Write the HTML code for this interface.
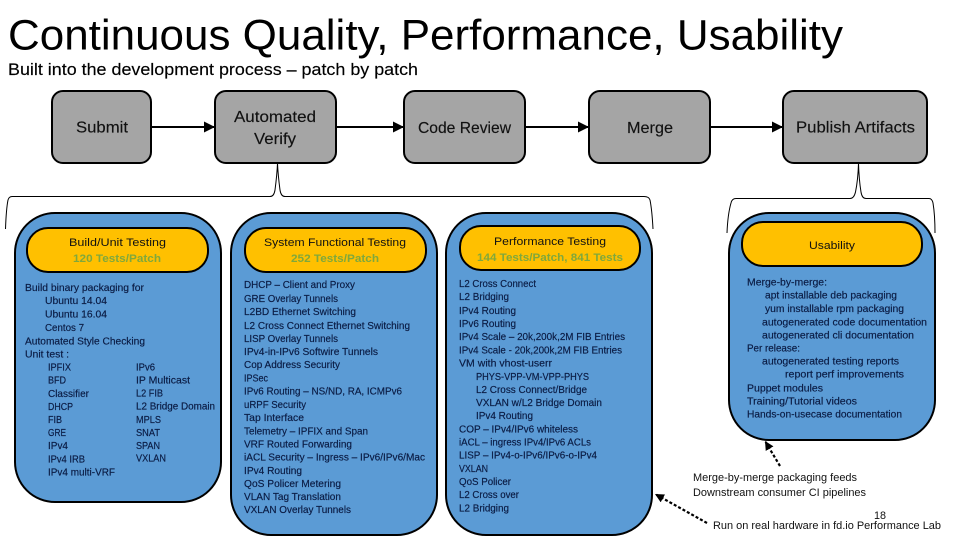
<!DOCTYPE html>
<html>
<head>
<meta charset="utf-8">
<style>
html,body{margin:0;padding:0;background:#fff;width:960px;height:540px;overflow:hidden}
svg{display:block}
text{font-family:"Liberation Sans",sans-serif}
.b text{font-size:10.2px;fill:#0b1c44;stroke:#0b1c44;stroke-width:.18px}
.g{font-size:16px;fill:#111;stroke:#111;stroke-width:.15px}
.y{font-size:11px;fill:#111}
.n{font-size:11px;fill:#7fa83c;font-weight:bold}
.f{font-size:10.8px;fill:#111}
</style>
</head>
<body>
<svg width="960" height="540" viewBox="0 0 960 540" xmlns="http://www.w3.org/2000/svg">
<defs>
<marker id="ah" markerWidth="11" markerHeight="11" refX="11" refY="5.500" orient="auto" markerUnits="userSpaceOnUse"><path d="M0 0L11 5.500L0 11Z" fill="#000"/></marker>
<marker id="ad" markerWidth="9" markerHeight="9" refX="9" refY="4.500" orient="auto" markerUnits="userSpaceOnUse"><path d="M0 0L9 4.500L0 9Z" fill="#000"/></marker>
</defs>
<rect width="960" height="540" fill="#fff"/>

<text x="8" y="49.500" font-size="43" fill="#000" textLength="835" lengthAdjust="spacingAndGlyphs">Continuous Quality, Performance, Usability</text>
<text x="8" y="75" font-size="17" fill="#000" stroke="#000" stroke-width=".15" textLength="410" lengthAdjust="spacingAndGlyphs">Built into the development process – patch by patch</text>

<!-- process boxes -->
<g fill="#a5a5a5" stroke="#000" stroke-width="2">
<rect x="52" y="91" width="99" height="72" rx="11"/>
<rect x="215" y="91" width="121" height="72" rx="11"/>
<rect x="404" y="91" width="121" height="72" rx="11"/>
<rect x="589" y="91" width="121" height="72" rx="11"/>
<rect x="783" y="91" width="144" height="72" rx="11"/>
</g>
<g stroke="#000" stroke-width="2" fill="none">
<line x1="151" y1="127" x2="215" y2="127" marker-end="url(#ah)"/>
<line x1="336" y1="127" x2="404" y2="127" marker-end="url(#ah)"/>
<line x1="525" y1="127" x2="589" y2="127" marker-end="url(#ah)"/>
<line x1="710" y1="127" x2="783" y2="127" marker-end="url(#ah)"/>
</g>
<text class="g" x="76" y="132.500" textLength="52" lengthAdjust="spacingAndGlyphs">Submit</text>
<text class="g" x="234" y="122" textLength="82" lengthAdjust="spacingAndGlyphs">Automated</text>
<text class="g" x="254" y="144" textLength="42" lengthAdjust="spacingAndGlyphs">Verify</text>
<text class="g" x="418" y="133" textLength="93" lengthAdjust="spacingAndGlyphs">Code Review</text>
<text class="g" x="627" y="133" textLength="46" lengthAdjust="spacingAndGlyphs">Merge</text>
<text class="g" x="796" y="132.500" textLength="119" lengthAdjust="spacingAndGlyphs">Publish Artifacts</text>

<!-- braces -->
<g fill="none" stroke="#000" stroke-width="1">
<path d="M5.500 229C6 215 7 205 8 200Q9 196.500 12 196.500L270 196.500Q274 196.500 275 190Q277 175 277.500 163Q278 175 280 190Q281 196.500 285 196.500L644 196.500Q649 196.500 650 200Q652 210 653 229"/>
<path d="M727 233C727.500 220 729 210 731 203Q732 198.500 736 198.500L850 198.500Q854 198.500 855.500 192Q858 180 858.500 163Q859 180 861 192Q862 198.500 866 198.500L929 198.500Q932 198.500 933 203Q935 215 935 233"/>
</g>

<!-- blue panels -->
<g fill="#5b9bd5" stroke="#000" stroke-width="2">
<rect x="15" y="213" width="206" height="289" rx="40"/>
<rect x="231" y="213" width="206" height="322" rx="40"/>
<rect x="446" y="213" width="206" height="322" rx="40"/>
<rect x="729" y="213" width="206" height="227" rx="40"/>
</g>
<g fill="#ffc000" stroke="#000" stroke-width="2">
<rect x="27" y="228" width="181" height="44" rx="21"/>
<rect x="245" y="228" width="181" height="44" rx="21"/>
<rect x="460" y="226" width="180" height="44" rx="21"/>
<rect x="742" y="222" width="180" height="44" rx="21"/>
</g>
<text class="y" x="69" y="246" textLength="97" lengthAdjust="spacingAndGlyphs">Build/Unit Testing</text>
<text class="n" x="73" y="262" textLength="88" lengthAdjust="spacingAndGlyphs">120 Tests/Patch</text>
<text class="y" x="264" y="246" textLength="142" lengthAdjust="spacingAndGlyphs">System Functional Testing</text>
<text class="n" x="291" y="262" textLength="88" lengthAdjust="spacingAndGlyphs">252 Tests/Patch</text>
<text class="y" x="494" y="245" textLength="112" lengthAdjust="spacingAndGlyphs">Performance Testing</text>
<text class="n" x="477" y="261" textLength="146" lengthAdjust="spacingAndGlyphs">144 Tests/Patch, 841 Tests</text>
<text class="y" x="809" y="249" textLength="46" lengthAdjust="spacingAndGlyphs">Usability</text>

<!-- column 1 -->
<g class="b">
<text x="25" y="291" textLength="119" lengthAdjust="spacingAndGlyphs">Build binary packaging for</text>
<text x="45" y="304" textLength="62" lengthAdjust="spacingAndGlyphs">Ubuntu 14.04</text>
<text x="45" y="317.500" textLength="62" lengthAdjust="spacingAndGlyphs">Ubuntu 16.04</text>
<text x="45" y="331" textLength="39" lengthAdjust="spacingAndGlyphs">Centos 7</text>
<text x="25" y="344.500" textLength="120" lengthAdjust="spacingAndGlyphs">Automated Style Checking</text>
<text x="25" y="357.500" textLength="44" lengthAdjust="spacingAndGlyphs">Unit test :</text>
<text x="48" y="370.500" textLength="23" lengthAdjust="spacingAndGlyphs">IPFIX</text>
<text x="48" y="383.500" textLength="18" lengthAdjust="spacingAndGlyphs">BFD</text>
<text x="48" y="397" textLength="41" lengthAdjust="spacingAndGlyphs">Classifier</text>
<text x="48" y="410" textLength="25" lengthAdjust="spacingAndGlyphs">DHCP</text>
<text x="48" y="423" textLength="14" lengthAdjust="spacingAndGlyphs">FIB</text>
<text x="48" y="436" textLength="18" lengthAdjust="spacingAndGlyphs">GRE</text>
<text x="48" y="449" textLength="20" lengthAdjust="spacingAndGlyphs">IPv4</text>
<text x="48" y="462.500" textLength="37" lengthAdjust="spacingAndGlyphs">IPv4 IRB</text>
<text x="48" y="475.500" textLength="67" lengthAdjust="spacingAndGlyphs">IPv4 multi-VRF</text>
<text x="136" y="370.500" textLength="19" lengthAdjust="spacingAndGlyphs">IPv6</text>
<text x="136" y="383.500" textLength="54" lengthAdjust="spacingAndGlyphs">IP Multicast</text>
<text x="136" y="396.500" textLength="27" lengthAdjust="spacingAndGlyphs">L2 FIB</text>
<text x="136" y="409.500" textLength="79" lengthAdjust="spacingAndGlyphs">L2 Bridge Domain</text>
<text x="136" y="423" textLength="25" lengthAdjust="spacingAndGlyphs">MPLS</text>
<text x="136" y="436" textLength="24" lengthAdjust="spacingAndGlyphs">SNAT</text>
<text x="136" y="449" textLength="24" lengthAdjust="spacingAndGlyphs">SPAN</text>
<text x="136" y="461.500" textLength="30" lengthAdjust="spacingAndGlyphs">VXLAN</text>
</g>

<!-- column 2 -->
<g class="b">
<text x="244" y="288" textLength="111" lengthAdjust="spacingAndGlyphs">DHCP – Client and Proxy</text>
<text x="244" y="302" textLength="94" lengthAdjust="spacingAndGlyphs">GRE Overlay Tunnels</text>
<text x="244" y="315" textLength="112" lengthAdjust="spacingAndGlyphs">L2BD Ethernet Switching</text>
<text x="244" y="329" textLength="166" lengthAdjust="spacingAndGlyphs">L2 Cross Connect Ethernet Switching</text>
<text x="244" y="342" textLength="94" lengthAdjust="spacingAndGlyphs">LISP Overlay Tunnels</text>
<text x="244" y="355" textLength="134" lengthAdjust="spacingAndGlyphs">IPv4-in-IPv6 Softwire Tunnels</text>
<text x="244" y="368" textLength="96" lengthAdjust="spacingAndGlyphs">Cop Address Security</text>
<text x="244" y="381.500" textLength="24" lengthAdjust="spacingAndGlyphs">IPSec</text>
<text x="244" y="394.500" textLength="158" lengthAdjust="spacingAndGlyphs">IPv6 Routing – NS/ND, RA, ICMPv6</text>
<text x="244" y="408" textLength="62" lengthAdjust="spacingAndGlyphs">uRPF Security</text>
<text x="244" y="421" textLength="60" lengthAdjust="spacingAndGlyphs">Tap Interface</text>
<text x="244" y="434.500" textLength="124" lengthAdjust="spacingAndGlyphs">Telemetry – IPFIX and Span</text>
<text x="244" y="447.500" textLength="108" lengthAdjust="spacingAndGlyphs">VRF Routed Forwarding</text>
<text x="244" y="460.500" textLength="181" lengthAdjust="spacingAndGlyphs">iACL Security – Ingress – IPv6/IPv6/Mac</text>
<text x="244" y="474" textLength="58" lengthAdjust="spacingAndGlyphs">IPv4 Routing</text>
<text x="244" y="487" textLength="97" lengthAdjust="spacingAndGlyphs">QoS Policer Metering</text>
<text x="244" y="500" textLength="97" lengthAdjust="spacingAndGlyphs">VLAN Tag Translation</text>
<text x="244" y="513" textLength="107" lengthAdjust="spacingAndGlyphs">VXLAN Overlay Tunnels</text>
</g>

<!-- column 3 -->
<g class="b">
<text x="459" y="287" textLength="77" lengthAdjust="spacingAndGlyphs">L2 Cross Connect</text>
<text x="459" y="300" textLength="50" lengthAdjust="spacingAndGlyphs">L2 Bridging</text>
<text x="459" y="314" textLength="57" lengthAdjust="spacingAndGlyphs">IPv4 Routing</text>
<text x="459" y="327" textLength="57" lengthAdjust="spacingAndGlyphs">IPv6 Routing</text>
<text x="459" y="340" textLength="166" lengthAdjust="spacingAndGlyphs">IPv4 Scale – 20k,200k,2M FIB Entries</text>
<text x="459" y="353.500" textLength="163" lengthAdjust="spacingAndGlyphs">IPv4 Scale - 20k,200k,2M FIB Entries</text>
<text x="459" y="366.500" textLength="93" lengthAdjust="spacingAndGlyphs">VM with vhost-userr</text>
<text x="476" y="380" textLength="113" lengthAdjust="spacingAndGlyphs">PHYS-VPP-VM-VPP-PHYS</text>
<text x="476" y="393" textLength="111" lengthAdjust="spacingAndGlyphs">L2 Cross Connect/Bridge</text>
<text x="476" y="406" textLength="126" lengthAdjust="spacingAndGlyphs">VXLAN w/L2 Bridge Domain</text>
<text x="476" y="419" textLength="57" lengthAdjust="spacingAndGlyphs">IPv4 Routing</text>
<text x="459" y="432.500" textLength="119" lengthAdjust="spacingAndGlyphs">COP – IPv4/IPv6 whiteless</text>
<text x="459" y="445.500" textLength="132" lengthAdjust="spacingAndGlyphs">iACL – ingress IPv4/IPv6 ACLs</text>
<text x="459" y="458.500" textLength="138" lengthAdjust="spacingAndGlyphs">LISP – IPv4-o-IPv6/IPv6-o-IPv4</text>
<text x="459" y="472" textLength="29" lengthAdjust="spacingAndGlyphs">VXLAN</text>
<text x="459" y="485" textLength="52" lengthAdjust="spacingAndGlyphs">QoS Policer</text>
<text x="459" y="498" textLength="60" lengthAdjust="spacingAndGlyphs">L2 Cross over</text>
<text x="459" y="511.500" textLength="50" lengthAdjust="spacingAndGlyphs">L2 Bridging</text>
</g>

<!-- column 4 -->
<g class="b">
<text x="747" y="285.500" textLength="80" lengthAdjust="spacingAndGlyphs">Merge-by-merge:</text>
<text x="765" y="298.500" textLength="132" lengthAdjust="spacingAndGlyphs">apt installable deb packaging</text>
<text x="765" y="312" textLength="139" lengthAdjust="spacingAndGlyphs">yum installable rpm packaging</text>
<text x="762" y="325.500" textLength="165" lengthAdjust="spacingAndGlyphs">autogenerated code documentation</text>
<text x="762" y="338.500" textLength="152" lengthAdjust="spacingAndGlyphs">autogenerated cli documentation</text>
<text x="747" y="351.500" textLength="53" lengthAdjust="spacingAndGlyphs">Per release:</text>
<text x="762" y="364.500" textLength="137" lengthAdjust="spacingAndGlyphs">autogenerated testing reports</text>
<text x="785" y="377.500" textLength="119" lengthAdjust="spacingAndGlyphs">report perf improvements</text>
<text x="747" y="391.500" textLength="76" lengthAdjust="spacingAndGlyphs">Puppet modules</text>
<text x="747" y="404.500" textLength="110" lengthAdjust="spacingAndGlyphs">Training/Tutorial videos</text>
<text x="747" y="417.500" textLength="155" lengthAdjust="spacingAndGlyphs">Hands-on-usecase documentation</text>
</g>

<!-- dashed arrows -->
<g fill="none" stroke="#000" stroke-width="2.200" stroke-dasharray="3 2">
<line x1="780" y1="466" x2="765" y2="441" marker-end="url(#ad)"/>
<line x1="707" y1="523" x2="655" y2="494" marker-end="url(#ad)"/>
</g>

<text class="f" x="693" y="481" textLength="164" lengthAdjust="spacingAndGlyphs">Merge-by-merge packaging feeds</text>
<text class="f" x="693" y="496" textLength="173" lengthAdjust="spacingAndGlyphs">Downstream consumer CI pipelines</text>
<text class="f" x="874" y="519" textLength="12" lengthAdjust="spacingAndGlyphs">18</text>
<text class="f" x="713" y="529" textLength="228" lengthAdjust="spacingAndGlyphs">Run on real hardware in fd.io Performance Lab</text>
</svg>
</body>
</html>
